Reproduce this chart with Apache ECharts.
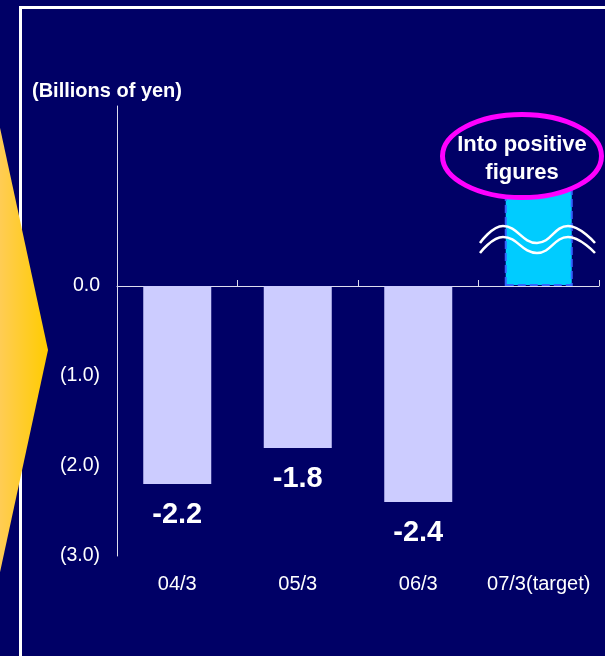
<!DOCTYPE html>
<html>
<head>
<meta charset="utf-8">
<style>
html,body{margin:0;padding:0;background:#000066;}
#chart{width:605px;height:656px;}
</style>
<script src="https://cdn.jsdelivr.net/npm/echarts@6/dist/echarts.min.js"></script>
</head>
<body>
<div id="chart"></div>
<script>
const categories = ['04/3', '05/3', '06/3', '07/3(target)'];
const values = [-2.2, -1.8, -2.4, 1.2];
const valueLabels = ['-2.2', '-1.8', '-2.4', ''];
const yTickLabels = {'0': '0.0', '-1': '(1.0)', '-2': '(2.0)', '-3': '(3.0)'};
const unitTitle = '(Billions of yen)';
const calloutText = 'Into positive\nfigures';

const FONT = '"Liberation Sans", Arial, sans-serif';
const chart = echarts.init(document.getElementById('chart'));

const seriesData = values.map((v, i) => {
  const item = {value: v};
  if (i === 3) {
    item.itemStyle = {color: '#00CCFF', borderColor: '#3366FF', borderWidth: 2, borderType: 'dashed'};
    item.label = {show: false};
  }
  return item;
});

chart.setOption({
  backgroundColor: '#000066',
  animation: false,
  title: {
    text: unitTitle, left: 32, top: 81, padding: 0,
    textStyle: {color: '#FFFFFF', fontFamily: FONT, fontWeight: 'bold', fontSize: 20, lineHeight: 20}
  },
  grid: {left: 117, right: 6, top: 106, bottom: 100, containLabel: false, outerBoundsMode: 'none'},
  xAxis: [{
    type: 'category', data: categories,
    axisLine: {onZero: true, lineStyle: {color: '#DDDDEE', width: 1}},
    axisTick: {show: true, inside: true, length: 6, lineStyle: {color: '#DDDDEE'}},
    axisLabel: {show: false},
    splitLine: {show: false}
  }, {
    type: 'category', data: categories, position: 'bottom',
    axisLine: {show: false, onZero: false},
    axisTick: {show: false},
    axisLabel: {color: '#FFFFFF', fontFamily: FONT, fontSize: 20, margin: 18, interval: 0, hideOverlap: false},
    splitLine: {show: false}
  }],
  yAxis: {
    type: 'value', min: -3, max: 2, interval: 1,
    axisLine: {show: true, lineStyle: {color: '#DDDDEE', width: 1}},
    axisTick: {show: false},
    splitLine: {show: false},
    axisLabel: {
      color: '#FFFFFF', fontFamily: FONT, fontSize: 19.5, margin: 17,
      formatter: v => (yTickLabels[String(v)] !== undefined ? yTickLabels[String(v)] : '')
    }
  },
  series: [{
    type: 'bar', data: seriesData, barWidth: 68, xAxisIndex: 0,
    itemStyle: {color: '#CCCCFF'},
    label: {
      show: true, position: 'bottom', distance: 16,
      color: '#FFFFFF', fontFamily: FONT, fontWeight: 'bold', fontSize: 29, lineHeight: 29,
      formatter: p => valueLabels[p.dataIndex]
    }
  }],
  graphic: [
    {type: 'rect', z: 20, silent: true,
     shape: {x: 20.5, y: 7.5, width: 700, height: 800},
     style: {fill: 'none', stroke: '#FFFFFF', lineWidth: 3}},
    {type: 'polygon', z: 30, silent: true,
     shape: {points: [[-20, 35], [48, 350], [-20, 665]]},
     style: {fill: new echarts.graphic.LinearGradient(0, 0, 1, 0, [
       {offset: 0, color: '#FFCC77'}, {offset: 1, color: '#FFCC00'}
     ])}},
    {type: 'ellipse', z: 40, silent: true,
     shape: {cx: 522, cy: 156, rx: 79.5, ry: 41.5},
     style: {fill: '#000066', stroke: '#FF00FF', lineWidth: 5}},
    {type: 'text', z: 41, silent: true, x: 522, y: 159,
     style: {text: calloutText, fill: '#FFFFFF', font: 'bold 22px ' + FONT,
             align: 'center', verticalAlign: 'middle', lineHeight: 28}},
    {type: 'polyline', z: 42, silent: true,
     shape: {points: [[480, 243], [503, 226], [537, 243], [568, 226], [595, 243]], smooth: 0.45},
     style: {fill: 'none', stroke: '#FFFFFF', lineWidth: 2.5}},
    {type: 'polyline', z: 42, silent: true,
     shape: {points: [[480, 253], [503, 237], [537, 253], [568, 237], [595, 253]], smooth: 0.45},
     style: {fill: 'none', stroke: '#FFFFFF', lineWidth: 2.5}}
  ]
});
</script>
</body>
</html>
